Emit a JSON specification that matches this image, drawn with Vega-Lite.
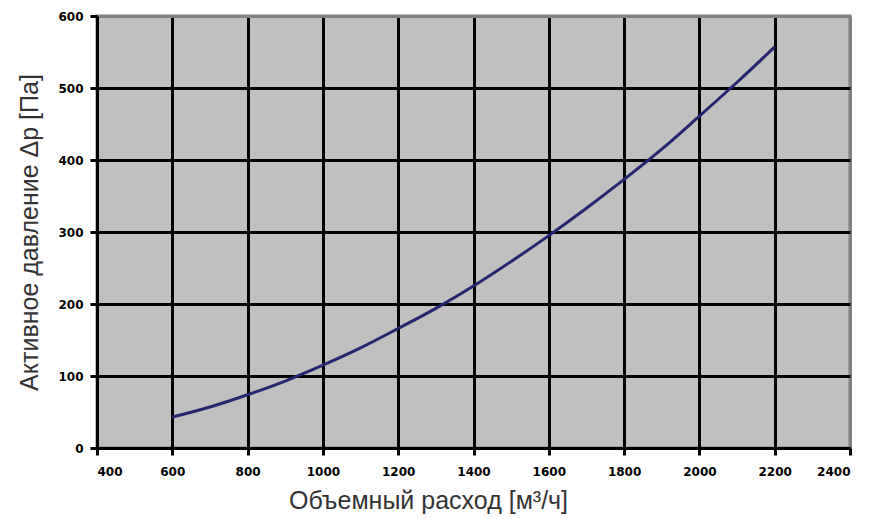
{
  "$schema": "https://vega.github.io/schema/vega-lite/v6.json",
  "width": 753,
  "height": 432,
  "autosize": {"type": "none"},
  "padding": {"left": 97, "top": 16, "right": 33, "bottom": 74},
  "background": "white",
  "config": {
    "view": {"fill": "#c0c0c0", "stroke": "#808080", "strokeWidth": 3},
    "axis": {
      "labelFont": "DejaVu Sans",
      "labelFontWeight": "bold",
      "labelFontSize": 12,
      "labelColor": "#000000",
      "titleFont": "Liberation Sans",
      "titleFontWeight": "normal",
      "titleFontSize": 25,
      "titleColor": "#333333",
      "domainColor": "#000000",
      "domainWidth": 3,
      "tickColor": "#000000",
      "tickWidth": 3,
      "tickSize": 7,
      "gridWidth": 3
    }
  },
  "data": {
    "values": [
      {"q": 600, "p": 43},
      {"q": 700, "p": 57},
      {"q": 800, "p": 74},
      {"q": 900, "p": 93},
      {"q": 1000, "p": 115},
      {"q": 1100, "p": 139},
      {"q": 1200, "p": 166},
      {"q": 1300, "p": 194},
      {"q": 1400, "p": 225},
      {"q": 1500, "p": 259},
      {"q": 1600, "p": 295},
      {"q": 1700, "p": 333},
      {"q": 1800, "p": 373},
      {"q": 1900, "p": 415},
      {"q": 2000, "p": 461},
      {"q": 2100, "p": 508},
      {"q": 2200, "p": 557}
    ]
  },
  "mark": {"type": "line", "color": "#262670", "strokeWidth": 3, "interpolate": "monotone"},
  "encoding": {
    "x": {
      "field": "q",
      "type": "quantitative",
      "scale": {"domain": [400, 2400], "nice": false, "zero": false},
      "axis": {
        "title": "Объемный расход [м³/ч]",
        "values": [400, 600, 800, 1000, 1200, 1400, 1600, 1800, 2000, 2200, 2400],
        "format": "d",
        "labelPadding": 11,
        "titleX": 331,
        "titleY": 60,
        "titleBaseline": "alphabetic",
        "titleAnchor": null,
        "titleAlign": "center",
        "gridColor": {"condition": {"test": "datum.value == 2400", "value": "#808080"}, "value": "#000000"}
      }
    },
    "y": {
      "field": "p",
      "type": "quantitative",
      "scale": {"domain": [0, 600], "nice": false},
      "axis": {
        "title": "Активное давление Δp [Па]",
        "values": [0, 100, 200, 300, 400, 500, 600],
        "format": "d",
        "labelPadding": 7,
        "titleX": -60,
        "titleY": 216,
        "titleAngle": -90,
        "titleAlign": "center",
        "titleBaseline": "alphabetic",
        "gridColor": {"condition": {"test": "datum.value == 600", "value": "#808080"}, "value": "#000000"}
      }
    }
  }
}
